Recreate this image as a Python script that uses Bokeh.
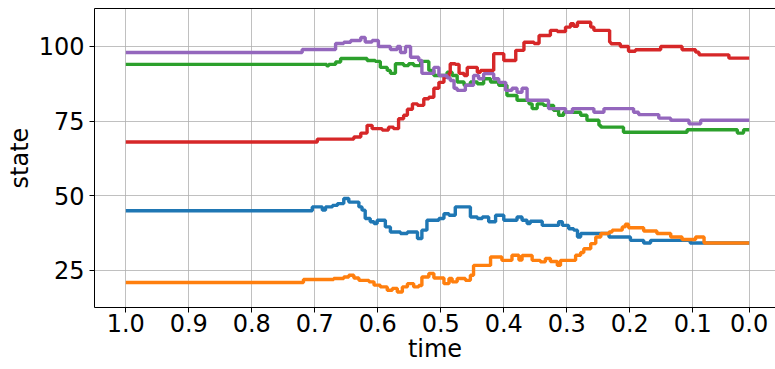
from bokeh.plotting import figure
from bokeh.models import FixedTicker, LinearAxis, Range1d
from bokeh.embed import file_html
from bokeh.resources import INLINE

# ---- data (time runs from 1.0 down to 0.0) ----
tick_times = [1.0, 0.9, 0.8, 0.7, 0.6, 0.5, 0.4, 0.3, 0.2, 0.1, 0.0]
tick_labels = ["1.0", "0.9", "0.8", "0.7", "0.6", "0.5", "0.4", "0.3", "0.2", "0.1", "0.0"]
y_ticks = [25, 50, 75, 100]

t_purple = [1.0, 0.720, 0.667, 0.654, 0.643, 0.627, 0.620, 0.609, 0.599, 0.580, 0.569, 0.564,
            0.556, 0.548, 0.535, 0.530, 0.519, 0.511, 0.503, 0.490, 0.485, 0.479, 0.474, 0.461,
            0.448, 0.440, 0.432, 0.416, 0.408, 0.397, 0.387, 0.379, 0.371, 0.363, 0.329, 0.302,
            0.291, 0.257, 0.241, 0.194, 0.186, 0.154, 0.135, 0.106, 0.086, 0.0]
v_purple = [98, 99, 101, 101.4, 102, 103, 101.5, 102, 100, 99, 100, 98,
            100, 96.4, 95.3, 91, 91, 93, 90.3, 89.5, 88.6, 86, 85.3, 87,
            90.3, 89.2, 90.9, 89.2, 88, 85.3, 86, 84.7, 86, 82, 79.2, 78,
            79.2, 78, 79.2, 78, 77.2, 76, 75.3, 74.1, 75.3, 75.3]

t_green = [1.0, 0.681, 0.678, 0.667, 0.659, 0.622, 0.617, 0.604, 0.596, 0.585, 0.580, 0.572,
           0.559, 0.551, 0.543, 0.532, 0.519, 0.511, 0.490, 0.482, 0.474, 0.463, 0.453, 0.442,
           0.432, 0.421, 0.408, 0.395, 0.379, 0.360, 0.355, 0.347, 0.337, 0.321, 0.313, 0.305,
           0.278, 0.268, 0.249, 0.246, 0.210, 0.109, 0.021, 0.010, 0.0]
v_green = [94, 93.5, 94, 94.8, 96, 96, 95.3, 95, 93, 92, 91, 94.2,
           93.6, 94.2, 93.6, 95, 92, 90.3, 91.4, 90.3, 88.1, 87, 88.1, 87.5,
           89.2, 88.1, 87, 83.6, 82, 80.8, 79.2, 80.8, 80.3, 78.6, 77, 78,
           77, 75.3, 73.6, 73, 71.3, 72.1, 71, 72.1, 72.1]

t_red = [1.0, 0.696, 0.638, 0.627, 0.617, 0.609, 0.593, 0.583, 0.575, 0.567, 0.559, 0.553,
         0.545, 0.537, 0.527, 0.519, 0.511, 0.503, 0.495, 0.487, 0.485, 0.477, 0.471, 0.463,
         0.458, 0.442, 0.437, 0.416, 0.400, 0.381, 0.368, 0.352, 0.344, 0.326, 0.315, 0.302,
         0.294, 0.289, 0.283, 0.262, 0.257, 0.232, 0.230, 0.215, 0.202, 0.191, 0.151, 0.117,
         0.095, 0.089, 0.036, 0.0]
v_red = [68, 69, 69.7, 71, 73.6, 72.5, 72, 73, 72.5, 75.8, 77, 79,
         80.8, 80.3, 82.5, 83, 86, 88, 89.7, 91, 94.2, 94, 91, 90.3,
         93, 91.4, 92, 97.6, 95.3, 98.7, 101.4, 101, 103.7, 105.4, 105, 106.5,
         107.6, 106.8, 108.1, 106.5, 105.4, 101.4, 100.9, 100, 98.4, 98.9, 100, 98.9,
         98.1, 97.2, 96.1, 96.1]

t_blue = [1.0, 0.704, 0.688, 0.683, 0.672, 0.664, 0.654, 0.646, 0.630, 0.625, 0.620, 0.612,
          0.606, 0.601, 0.588, 0.580, 0.564, 0.553, 0.537, 0.530, 0.522, 0.503, 0.495, 0.487,
          0.477, 0.453, 0.442, 0.434, 0.424, 0.413, 0.400, 0.379, 0.371, 0.363, 0.358, 0.339,
          0.313, 0.307, 0.297, 0.289, 0.283, 0.278, 0.233, 0.199, 0.178, 0.167, 0.104, 0.0]
v_blue = [45, 46.3, 45.2, 46.3, 46.8, 47.4, 49.1, 47.9, 46.3, 45.2, 42.4, 41.3,
          40.7, 41.8, 39.6, 37.9, 37.4, 37.9, 35.7, 38.5, 41.8, 42.4, 44, 43.5,
          46.3, 42.9, 42.4, 42.9, 41.3, 43.5, 41.8, 42.9, 41.8, 40.7, 41.5, 40.1,
          41.3, 40.1, 39, 38.5, 36.2, 37.4, 36.2, 35.1, 34.2, 35.1, 34.2, 34.2]

t_orange = [1.0, 0.718, 0.670, 0.654, 0.646, 0.638, 0.630, 0.614, 0.606, 0.596, 0.585, 0.577,
            0.569, 0.561, 0.553, 0.543, 0.535, 0.530, 0.519, 0.511, 0.495, 0.487, 0.482, 0.474,
            0.461, 0.453, 0.448, 0.421, 0.403, 0.387, 0.376, 0.371, 0.355, 0.342, 0.334, 0.326,
            0.315, 0.310, 0.286, 0.278, 0.273, 0.262, 0.254, 0.246, 0.233, 0.228, 0.212, 0.207,
            0.202, 0.178, 0.157, 0.135, 0.117, 0.095, 0.080, 0.0]
v_orange = [21, 22, 22.3, 22.8, 23.4, 22.5, 21.7, 21.2, 20.1, 19.5, 18.4, 19,
            17.8, 19.5, 20.6, 19.5, 20, 22.8, 24, 22.5, 20.6, 22.3, 21.2, 22.3,
            21.7, 23.4, 26.7, 29.5, 28.4, 30.1, 28.5, 30, 28.4, 27.9, 29, 28,
            26.7, 28.4, 30.1, 31, 32.3, 34, 36.2, 37.4, 37.9, 38.5, 39.6, 40.5,
            39.3, 38.2, 37.4, 36.2, 35.4, 36.2, 34.2, 34.2]

series = [
    (t_blue, v_blue, "#1f77b4"),
    (t_orange, v_orange, "#ff7f0e"),
    (t_green, v_green, "#2ca02c"),
    (t_red, v_red, "#d62728"),
    (t_purple, v_purple, "#9467bd"),
]

# The reference axis places 1.0..0.1 evenly and the last interval (0.1..0.0) a bit narrower.
LAST_GAP = 56.4 / 63.0


def pos(t):
    if t >= 0.1:
        return (1.0 - t) * 10.0
    return 9.0 + (0.1 - t) * 10.0 * LAST_GAP


FONT = "DejaVu Sans"
FS = "24px"

p = figure(width=775, height=369, output_backend="svg", toolbar_location=None,
           x_range=Range1d(-0.4968, 10.313), y_range=Range1d(12.61, 112.72),
           min_border_left=94, min_border_right=0, min_border_top=8, min_border_bottom=62)
p.background_fill_color = "white"
p.border_fill_color = "white"
p.outline_line_color = None

for ts, vs, col in series:
    p.step([pos(t) for t in ts], vs, mode="after", line_color=col, line_width=3.4)

tick_pos = [pos(t) for t in tick_times]
p.xaxis.ticker = FixedTicker(ticks=tick_pos)
p.xaxis.major_label_overrides = {tp: lab for tp, lab in zip(tick_pos, tick_labels)}
p.yaxis.ticker = FixedTicker(ticks=y_ticks)

for ax in (p.xaxis[0], p.yaxis[0]):
    ax.axis_line_color = "black"
    ax.axis_line_width = 1
    ax.major_tick_line_color = "black"
    ax.major_tick_in = 0
    ax.major_tick_out = 5
    ax.minor_tick_line_color = None
    ax.major_label_text_font = FONT
    ax.major_label_text_font_size = FS
    ax.major_label_text_color = "black"
    ax.axis_label_text_font = FONT
    ax.axis_label_text_font_size = FS
    ax.axis_label_text_font_style = "normal"
    ax.axis_label_text_color = "black"

p.xaxis.major_label_standoff = 1
p.xaxis.axis_label = "time"
p.xaxis.axis_label_standoff = 0
p.yaxis.major_label_standoff = 5
p.yaxis.axis_label = "state"
p.yaxis.axis_label_standoff = 2

# top spine
top = LinearAxis(ticker=FixedTicker(ticks=[]), axis_line_color="black",
                 major_tick_line_color=None, minor_tick_line_color=None,
                 major_label_text_font_size="0px")
p.add_layout(top, "above")

p.xgrid.ticker = FixedTicker(ticks=tick_pos)
p.ygrid.ticker = FixedTicker(ticks=y_ticks)
for g in (p.xgrid[0], p.ygrid[0]):
    g.grid_line_color = "#b0b0b0"
    g.grid_line_width = 0.8

open("out.html", "w").write(file_html(p, INLINE))
